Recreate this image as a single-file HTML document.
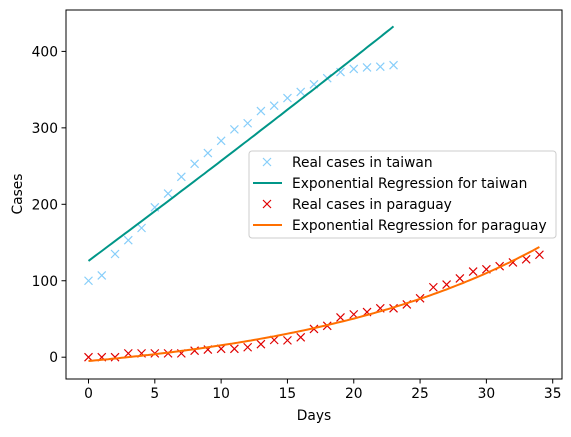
<!DOCTYPE html>
<html><head><meta charset="utf-8"><style>
body{margin:0;background:#fff;}
svg text{font-family:"DejaVu Sans","Liberation Sans",sans-serif;font-size:13.8px;fill:#000;}
</style></head><body>
<svg id="chart" width="571" height="432" xmlns="http://www.w3.org/2000/svg">
<g id="marks"></g>
<rect x="66" y="10" width="496" height="369" fill="none" stroke="#000" stroke-width="1"/>
<g id="axes"></g>
<text x="314" y="420" text-anchor="middle">Days</text>
<text transform="translate(22,194) rotate(-90)" text-anchor="middle">Cases</text>
<g>
<rect x="249" y="151" width="307" height="87" rx="3" fill="#fff" fill-opacity="0.85" stroke="#ccc"/>
<g><path d="M263,158 l8,8 M271,158 l-8,8" stroke="#87cefa" stroke-width="1.2"/><text x="292" y="167">Real cases in taiwan</text></g>
<g><line x1="253" x2="282" y1="183" y2="183" stroke="#009688" stroke-width="2"/><text x="292" y="188">Exponential Regression for taiwan</text></g>
<g><path d="M263,200 l8,8 M271,200 l-8,8" stroke="#e00000" stroke-width="1.2"/><text x="292" y="209">Real cases in paraguay</text></g>
<g><line x1="253" x2="282" y1="225" y2="225" stroke="#ff6f00" stroke-width="2"/><text x="292" y="230">Exponential Regression for paraguay</text></g>
</g>
</svg>
<script>
const taiwanCases=[100,107,135,153,169,196,214,236,253,267,283,298,306,322,329,339,347,357,365,373,377,379,380,382];
const paraguayCases=[0,0,0,5,5,5,5,5,8.5,10,11,11,13,17,22.5,22,26,37,41,52,56,59,64,64,69,77,91.5,95,103,112,115,119,124,128,134];
const taiwanFit=[4576,0.00282,-4450];      // a, b, c : a*exp(b*x)+c
const paraguayFit=[29.35,0.0531,-34.35];
const xTicks=[0,5,10,15,20,25,30,35];
const yTicks=[0,100,200,300,400];
const NS="http://www.w3.org/2000/svg";
const X=v=>88.5+v*13.263, Y=v=>357.2-v*0.7645;
const marks=document.getElementById('marks'), axes=document.getElementById('axes');
function mk(t,a,p){const e=document.createElementNS(NS,t);for(const k in a)e.setAttribute(k,a[k]);p.appendChild(e);return e;}
function cross(x,y,c,p){return mk('path',{d:`M${x-4},${y-4} l8,8 M${x+4},${y-4} l-8,8`,stroke:c,'stroke-width':1.2,fill:'none'},p);}
function fitPath(f,n,c,name){let d='';for(let i=0;i<=n*4;i++){const x=i/4;d+=(i?'L':'M')+X(x).toFixed(1)+','+Y(f[0]*Math.exp(f[1]*x)+f[2]).toFixed(1);}
const e=mk('path',{d:d,stroke:c,'stroke-width':2,fill:'none'},marks);

}
taiwanCases.forEach((v,i)=>{const e=cross(X(i),Y(v),'#87cefa',marks);

});
fitPath(taiwanFit,taiwanCases.length-1,'#009688','taiwan-regression-line');
paraguayCases.forEach((v,i)=>{const e=cross(X(i),Y(v),'#e00000',marks);

});
fitPath(paraguayFit,paraguayCases.length-1,'#ff6f00','paraguay-regression-line');
xTicks.forEach(t=>{const x=X(t);mk('line',{x1:x,x2:x,y1:379,y2:383.5,stroke:'#000'},axes);
const e=mk('text',{x:x,y:398,'text-anchor':'middle'},axes);e.textContent=t;

});
yTicks.forEach(t=>{const y=Y(t);mk('line',{x1:61.5,x2:66,y1:y,y2:y,stroke:'#000'},axes);
const e=mk('text',{x:58,y:y+5,'text-anchor':'end'},axes);e.textContent=t;

});
</script>
</body></html>
